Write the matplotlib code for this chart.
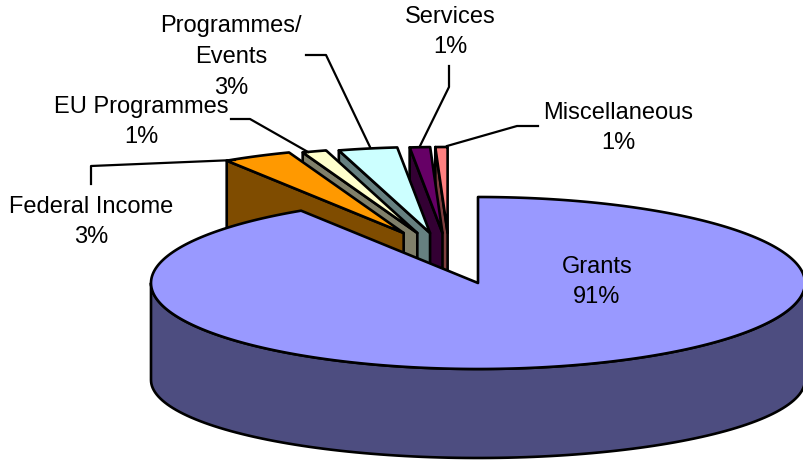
import numpy as np
from matplotlib import pyplot as plt
from matplotlib.patches import Polygon

plt.rcParams['font.family'] = ['Liberation Sans', 'DejaVu Sans']

# 数据：从 Grants 开始顺时针
names = ['Grants', 'Federal Income', 'EU Programmes', 'Programmes/\nEvents', 'Services', 'Miscellaneous']
values = [90.9, 3.4, 1.2, 2.9, 1.0, 0.6]
top_colors = ['#9999FF', '#FF9900', '#FFFFCC', '#CCFFFF', '#660066', '#FF8080']
side_colors = ['#4D4D80', '#7F4C00', '#80806A', '#668080', '#330033', '#804040']

# 标签中心位置和引线（像素）
label_pos = [(597, 282), (91, 222), (141, 122), (231, 57), (450, 32), (618, 128)]
leaders = [None,
           [(91, 184), (91, 166), (235, 160)],
           [(231, 119), (250, 119), (308, 152)],
           [(306, 55), (326, 55), (370, 147)],
           [(449, 66), (449, 87), (420, 146)],
           [(538, 126), (517, 126), (447, 146)]]

# 饼图的几何参数
cx, cy = 478, 283
a, b = 327, 86
depth = 93
base_cy, base_b = 380, 78
lift = 50
shift_x, spread_x = -0.087, 0.313


def arc(x0, y0, t1, t2, n=120, ry=b):
    # 椭圆弧，角度单位为度，y 轴向下
    t = np.radians(np.linspace(t1, t2, n))
    return np.column_stack([x0 + a * np.cos(t), y0 - ry * np.sin(t)])


def add_poly(ax, pts, color, z):
    ax.add_patch(Polygon(pts, closed=True, facecolor=color, edgecolor='black',
                         linewidth=1.9, joinstyle='round', zorder=z))


fig = plt.figure(figsize=(8.04, 4.61), dpi=100)
ax = fig.add_axes([0, 0, 1, 1])
ax.set_xlim(0, 804)
ax.set_ylim(461, 0)
ax.axis('off')

# 计算每块的角度，90 度开始顺时针
sweeps = np.array(values) / sum(values) * 360
ends = 90 - np.cumsum(sweeps)
starts = ends + sweeps

# 炸开的小块：先画后面的，再画前面的
for i in range(len(values) - 1, 0, -1):
    mid = np.radians((starts[i] + ends[i]) / 2)
    x0 = cx + a * (shift_x + spread_x * np.cos(mid))
    y0 = cy - lift
    rim = arc(x0, y0, starts[i], ends[i], 30)
    left = rim[np.argmin(rim[:, 0])]
    # 切面
    face = [left, (x0, y0), (x0, y0 + depth), (left[0], left[1] + depth)]
    z = 2 + (len(values) - i) * 0.1
    add_poly(ax, face, side_colors[i], z)
    add_poly(ax, np.vstack([[(x0, y0)], rim]), top_colors[i], z + 0.05)

# Grants：侧面和顶面
front = arc(cx, cy, 180, 360)
bottom = arc(cx, base_cy, 180, 360, ry=base_b)
side = np.vstack([front, bottom[::-1]])
add_poly(ax, side, side_colors[0], 4)
add_poly(ax, np.vstack([[(cx, cy)], arc(cx, cy, starts[0], ends[0], 300)]), top_colors[0], 5)

# 标签和引线
for i, name in enumerate(names):
    pct = '%d%%' % round(values[i])
    ax.text(label_pos[i][0], label_pos[i][1], name + '\n' + pct, ha='center', va='center',
            fontsize=17, color='black', linespacing=1.52, zorder=7)
    if leaders[i] is not None:
        xs, ys = zip(*leaders[i])
        ax.plot(xs, ys, color='black', linewidth=1.6, zorder=3)

fig.savefig('out.png', dpi=100)
